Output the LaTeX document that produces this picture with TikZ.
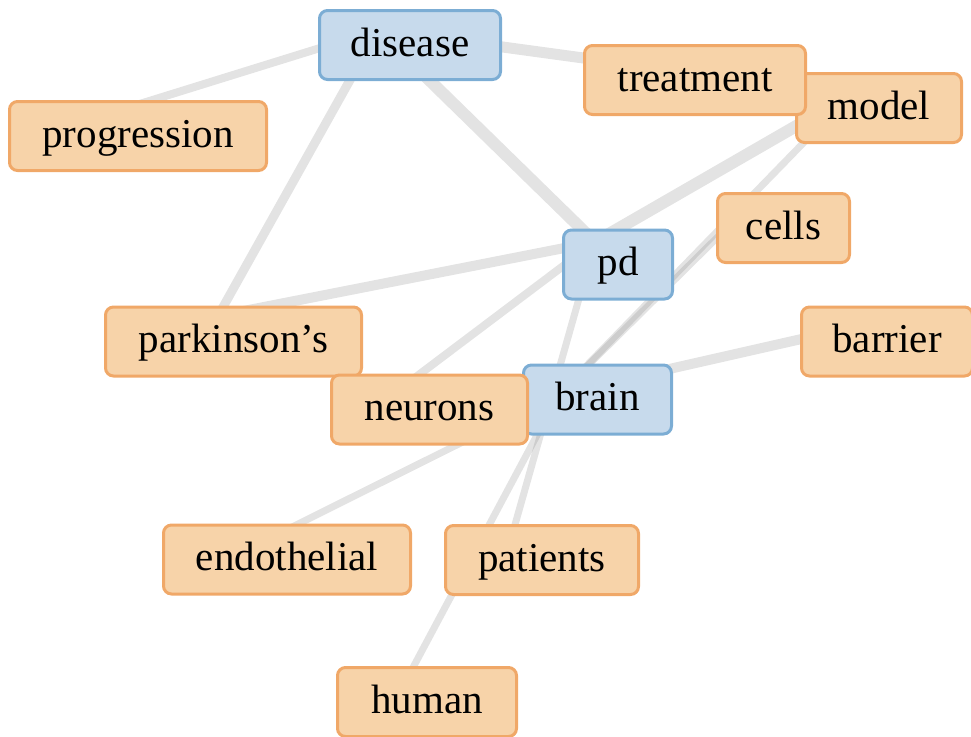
\documentclass[tikz,border=0pt]{standalone}
\usepackage{fontspec}
\setmainfont{Liberation Serif}
\definecolor{termfill}{HTML}{F7D3A9}
\definecolor{termline}{HTML}{F0A868}
\definecolor{keyfill}{HTML}{C7DAEC}
\definecolor{keyline}{HTML}{7CADD4}

\begin{document}
\begin{tikzpicture}[
    x=1pt, y=-1pt,
    term/.style={rectangle, rounded corners=8pt, draw=termline, line width=3pt, fill=termfill, minimum height=69pt, text height=30pt, text depth=8pt, inner xsep=0pt, font=\fontsize{41}{48}\selectfont},
    key/.style={term, draw=keyline, fill=keyfill},
    link/.style={draw=gray, draw opacity=0.22, line width=#1}
]
\useasboundingbox (0,0) rectangle (971,736);

% word positions
\coordinate (disease-pt) at (378,30);
\coordinate (progression-pt) at (130,107);
\coordinate (treatment-pt) at (620,63);
\coordinate (parkinsons-pt) at (218,316);
\coordinate (pd-pt) at (595,242);
\coordinate (model-pt) at (850,95);
\coordinate (neurons-pt) at (400,389);
\coordinate (patients-pt) at (505,560);
\coordinate (brain-pt) at (559,394);
\coordinate (cells-pt) at (740,215);
\coordinate (barrier-pt) at (850,328);
\coordinate (endothelial-pt) at (260,543);
\coordinate (human-pt) at (401,690);

% Links
\draw[link=8pt] (disease-pt) -- (progression-pt);
\draw[link=11pt] (disease-pt) -- (treatment-pt);
\draw[link=9pt] (disease-pt) -- (parkinsons-pt);
\draw[link=12pt] (disease-pt) -- (pd-pt);
\draw[link=12pt] (pd-pt) -- (model-pt);
\draw[link=10pt] (pd-pt) -- (parkinsons-pt);
\draw[link=8pt] (pd-pt) -- (neurons-pt);
\draw[link=7pt] (pd-pt) -- (patients-pt);
\draw[link=7pt] (brain-pt) -- (model-pt);
\draw[link=7pt] (brain-pt) -- (cells-pt);
\draw[link=10pt] (brain-pt) -- (barrier-pt);
\draw[link=7pt] (brain-pt) -- (endothelial-pt);
\draw[link=7pt] (brain-pt) -- (human-pt);

% Labels
\node[key, minimum width=181pt] (disease) at (410,45) {disease};
\node[term, minimum width=257pt] (progression) at (138,136) {progression};
\node[term, minimum width=165pt] (model) at (879,108) {model};
\node[term, minimum width=221pt] (treatment) at (695,80) {treatment};
\node[term, minimum width=132pt] (cells) at (783.5,228) {cells};
\node[key, minimum width=109pt] (pd) at (618,264.5) {pd};
\node[term, minimum width=256pt] (parkinsons) at (233.5,341.5) {parkinson's};
\node[term, minimum width=171pt] (barrier) at (887,341.5) {barrier};
\node[key, minimum width=148pt] (brain) at (597.5,399.5) {brain};
\node[term, minimum width=196pt] (neurons) at (429.5,409.5) {neurons};
\node[term, minimum width=247pt] (endothelial) at (287,559.5) {endothelial};
\node[term, minimum width=193pt] (patients) at (542,560) {patients};
\node[term, minimum width=179pt] (human) at (427,702) {human};

\end{tikzpicture}
\end{document}
